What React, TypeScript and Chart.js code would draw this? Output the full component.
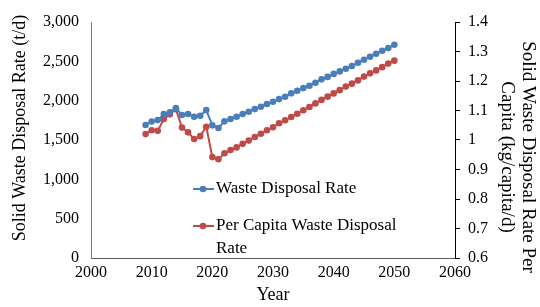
import React, { useEffect, useRef } from "react";
import { Chart, registerables } from "chart.js";

Chart.register(...registerables);

const years = [
  2009, 2010, 2011, 2012, 2013, 2014, 2015, 2016, 2017, 2018, 2019, 2020, 2021,
  2022, 2023, 2024, 2025, 2026, 2027, 2028, 2029, 2030, 2031, 2032, 2033, 2034,
  2035, 2036, 2037, 2038, 2039, 2040, 2041, 2042, 2043, 2044, 2045, 2046, 2047,
  2048, 2049, 2050,
];

const wasteDisposalRate = [
  1690, 1735, 1753, 1830, 1851, 1905, 1817, 1830, 1795, 1808, 1880, 1686, 1652,
  1737, 1766, 1795, 1830, 1859, 1893, 1923, 1957, 1986, 2020, 2050, 2093, 2126,
  2160, 2189, 2228, 2271, 2302, 2340, 2372, 2405, 2440, 2482, 2520, 2558, 2596,
  2634, 2668, 2710,
];

const perCapitaRate = [
  1.02, 1.033, 1.031, 1.071, 1.087, 1.104, 1.042, 1.026, 1.003, 1.013, 1.045,
  0.942, 0.935, 0.955, 0.966, 0.975, 0.987, 0.998, 1.01, 1.021, 1.033, 1.043,
  1.057, 1.067, 1.078, 1.089, 1.101, 1.112, 1.124, 1.136, 1.147, 1.158, 1.169,
  1.181, 1.191, 1.202, 1.215, 1.226, 1.236, 1.247, 1.259, 1.269,
];

const seriesNames = ["Waste Disposal Rate", "Per Capita Waste Disposal Rate"];
const legendLines = [["Waste Disposal Rate"], ["Per Capita Waste Disposal", "Rate"]];
const leftTitle = "Solid Waste Disposal Rate (t/d)";
const rightTitle = ["Solid Waste Disposal Rate Per", "Capita (kg/capita/d)"];
const xTitle = "Year";

const BLUE = "#4a7ebb";
const RED = "#be4b48";
const FONT = "'Liberation Serif', 'Times New Roman', serif";
const TEXT = "#000000";

const decorPlugin = {
  id: "decor",
  afterDraw(chart: any) {
    const ctx = chart.ctx;
    const ca = chart.chartArea;
    const colors = [BLUE, RED];
    ctx.save();
    // axis titles
    ctx.fillStyle = TEXT;
    ctx.font = `18px ${FONT}`;
    ctx.textAlign = "center";
    ctx.textBaseline = "middle";
    ctx.save();
    ctx.translate(20, ca.top + 106);
    ctx.rotate(-Math.PI / 2);
    ctx.fillText(leftTitle, 0, 0);
    ctx.restore();
    ctx.save();
    ctx.font = `19px ${FONT}`;
    ctx.translate(chart.width - 12, ca.top + 135);
    ctx.rotate(Math.PI / 2);
    rightTitle.forEach((t, j) => ctx.fillText(t, 0, j * 21));
    ctx.restore();
    // legend
    const x0 = ca.left + 102;
    const rows = [ca.top + 167, ca.top + 204];
    ctx.font = `17px ${FONT}`;
    ctx.textAlign = "left";
    legendLines.forEach((lines, i) => {
      const y = rows[i];
      ctx.strokeStyle = colors[i];
      ctx.lineWidth = 2;
      ctx.beginPath();
      ctx.moveTo(x0, y);
      ctx.lineTo(x0 + 21, y);
      ctx.stroke();
      ctx.fillStyle = colors[i];
      ctx.beginPath();
      ctx.arc(x0 + 10, y, 3.3, 0, Math.PI * 2);
      ctx.fill();
      ctx.fillStyle = TEXT;
      lines.forEach((t, j) => {
        ctx.fillText(t, x0 + 23, y + j * 23);
      });
    });
    ctx.restore();
  },
};

export default function App() {
  const ref = useRef<HTMLCanvasElement>(null);
  useEffect(() => {
    if (!ref.current) return;
    const chart = new Chart(ref.current, {
      type: "line",
      data: {
        datasets: [
          {
            label: seriesNames[0],
            data: years.map((y, i) => ({ x: y, y: wasteDisposalRate[i] })),
            borderColor: BLUE,
            backgroundColor: BLUE,
            pointBackgroundColor: BLUE,
            pointBorderColor: BLUE,
            pointRadius: 3.3,
            pointBorderWidth: 0,
            borderWidth: 2,
            yAxisID: "y",
            tension: 0,
          },
          {
            label: seriesNames[1],
            data: years.map((y, i) => ({ x: y, y: perCapitaRate[i] })),
            borderColor: RED,
            backgroundColor: RED,
            pointBackgroundColor: RED,
            pointBorderColor: RED,
            pointRadius: 3.3,
            pointBorderWidth: 0,
            borderWidth: 2,
            yAxisID: "y1",
            tension: 0,
          },
        ],
      },
      options: {
        responsive: false,
        animation: false,
        layout: { padding: { top: 22, left: 0, right: 0, bottom: 0 } },
        plugins: {
          legend: { display: false },
          tooltip: { enabled: false },
        },
        scales: {
          x: {
            type: "linear",
            min: 2000,
            max: 2060,
            afterFit: (s: any) => {
              s.height = 49;
            },
            ticks: {
              stepSize: 10,
              padding: 5,
              color: TEXT,
              font: { family: FONT, size: 16 },
              callback: (v: any) => String(v),
            },
            grid: { display: false, drawTicks: false },
            border: { display: true, color: "#595959", width: 1 },
            title: {
              display: true,
              text: xTitle,
              color: TEXT,
              font: { family: FONT, size: 18 },
              padding: { top: 0, bottom: 1 },
            },
          },
          y: {
            position: "left",
            min: 0,
            max: 3000,
            afterFit: (s: any) => {
              s.width = 91;
            },
            ticks: {
              stepSize: 500,
              padding: 12,
              color: TEXT,
              font: { family: FONT, size: 16 },
            },
            grid: { display: false, drawTicks: false },
            border: { display: true, color: "#7f7f7f", width: 1 },
            title: { display: false, text: leftTitle },
          },
          y1: {
            position: "right",
            min: 0.6,
            max: 1.4,
            afterFit: (s: any) => {
              s.width = 85;
            },
            ticks: {
              stepSize: 0.1,
              padding: 8,
              color: TEXT,
              font: { family: FONT, size: 16 },
              callback: (v: any) => String(Math.round(Number(v) * 10) / 10),
            },
            grid: {
              display: true,
              drawOnChartArea: false,
              drawTicks: true,
              tickLength: 5,
              color: "#000000",
            },
            border: { display: true, color: "#000000", width: 1 },
            title: { display: false, text: rightTitle },
          },
        },
      },
      plugins: [decorPlugin],
    } as any);
    return () => chart.destroy();
  }, []);
  return (
    <div style={{ position: "fixed", left: 0, top: 0, width: 540, height: 307, background: "#fff" }}>
      <canvas ref={ref} width={540} height={307} style={{ width: 540, height: 307, display: "block" }} />
    </div>
  );
}
